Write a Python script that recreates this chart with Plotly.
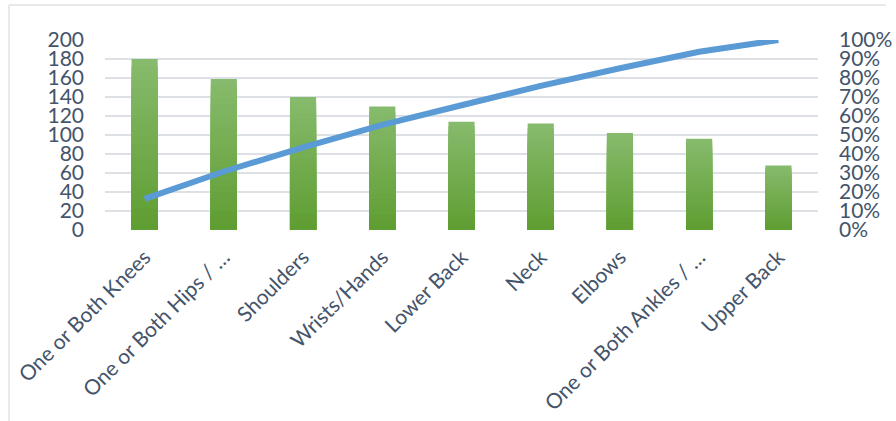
import numpy as np
import plotly.graph_objects as go

# Pain locations (Pareto order) and number of responses
categories = [
    "One or Both Knees",
    "One or Both Hips / …",
    "Shoulders",
    "Wrists/Hands",
    "Lower Back",
    "Neck",
    "Elbows",
    "One or Both Ankles / …",
    "Upper Back",
]
counts = [180, 159, 140, 130, 114, 112, 102, 96, 68]

left_ticks = list(range(0, 201, 20))
right_ticks = list(range(0, 101, 10))
right_tick_text = [f"{v}%" for v in right_ticks]

counts_arr = np.array(counts, dtype=float)
cumulative_pct = np.cumsum(counts_arr) / counts_arr.sum() * 100

FONT = "Lato"
TEXT = "#44546A"
GRID = "#dde1e6"
BAR_TOP = np.array([0x86, 0xBA, 0x6C])
BAR_BOTTOM = np.array([0x5F, 0x9E, 0x32])

fig = go.Figure()

# Vertical gradient on the bars: stacked-over copies shrinking toward the base,
# each a little darker than the one behind it.
layers = 24
for i in range(layers):
    frac = 1 - i / layers
    t = i / (layers - 1)
    rgb = (BAR_TOP * (1 - t) + BAR_BOTTOM * t).round().astype(int)
    fig.add_trace(go.Bar(
        x=categories,
        y=counts_arr * frac,
        width=0.33,
        marker=dict(color=f"rgb({rgb[0]},{rgb[1]},{rgb[2]})", line=dict(width=0)),
        hoverinfo="skip",
        showlegend=False,
        yaxis="y",
    ))

# Cumulative percentage line
fig.add_trace(go.Scatter(
    x=categories,
    y=cumulative_pct,
    mode="lines",
    line=dict(color="#5B9BD5", width=6),
    showlegend=False,
    yaxis="y2",
))

fig.update_layout(
    width=896,
    height=421,
    margin=dict(l=105, r=78, t=40, b=191, autoexpand=False),
    paper_bgcolor="white",
    plot_bgcolor="white",
    barmode="overlay",
    font=dict(family=FONT, color=TEXT),
    xaxis=dict(
        type="category",
        tickangle=-45,
        tickfont=dict(size=21, family=FONT, color=TEXT),
        showgrid=False,
        showline=False,
        zeroline=False,
        ticks="",
        ticklabelstandoff=10,
        automargin=False,
    ),
    yaxis=dict(
        range=[0, 200],
        tickmode="array",
        tickvals=left_ticks,
        tickfont=dict(size=21, family=FONT, color=TEXT),
        showgrid=True,
        gridcolor=GRID,
        gridwidth=1.5,
        zeroline=False,
        showline=False,
        ticks="",
        ticklabelstandoff=20,
        automargin=False,
    ),
    yaxis2=dict(
        range=[0, 100],
        tickmode="array",
        tickvals=right_ticks,
        ticktext=right_tick_text,
        overlaying="y",
        side="right",
        tickfont=dict(size=21, family=FONT, color=TEXT),
        showgrid=False,
        zeroline=False,
        showline=False,
        ticks="",
        ticklabelstandoff=20,
        automargin=False,
    ),
    shapes=[
        # chart frame: top edge and left edge
        dict(type="line", xref="paper", yref="paper",
             x0=(9 - 105) / 713, x1=(886 - 105) / 713,
             y0=(230 - 5) / 190, y1=(230 - 5) / 190,
             line=dict(color="#dfe2e6", width=1.5)),
        dict(type="line", xref="paper", yref="paper",
             x0=(9 - 105) / 713, x1=(9 - 105) / 713,
             y0=(230 - 5) / 190, y1=(230 - 425) / 190,
             line=dict(color="#dfe2e6", width=1.5)),
    ],
)

fig.write_html("out.html")
